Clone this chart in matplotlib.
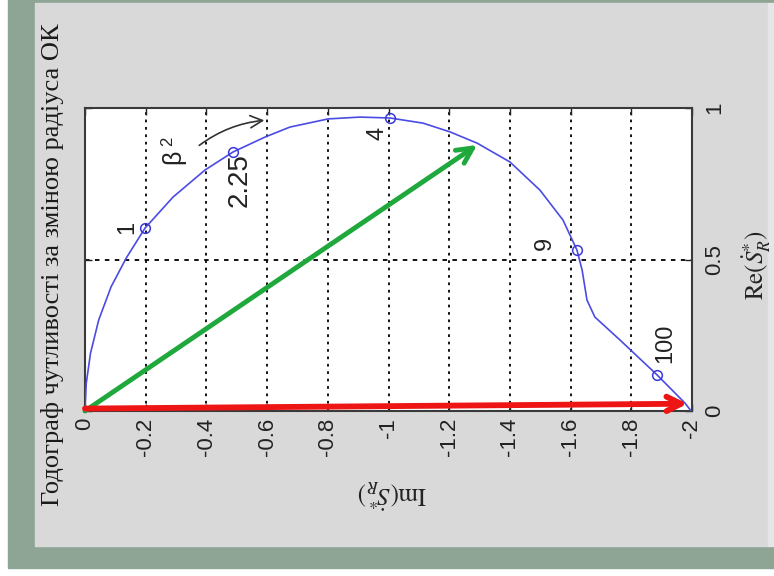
import matplotlib
matplotlib.use("Agg")
import matplotlib.pyplot as plt
from matplotlib.patches import Rectangle

# годограф: уявна частина (вісь внизу) та дійсна частина (вісь праворуч)
im_curve = [0, -0.004, -0.018, -0.045, -0.086, -0.136, -0.198, -0.290, -0.395, -0.488,
            -0.593, -0.675, -0.801, -0.906, -1.005, -1.114, -1.203, -1.292, -1.400,
            -1.499, -1.575, -1.621, -1.638, -1.654, -1.680, -1.763, -1.885, -1.977, -1.997]
re_curve = [0, 0.090, 0.190, 0.300, 0.410, 0.505, 0.604, 0.706, 0.795, 0.855,
            0.904, 0.937, 0.964, 0.970, 0.967, 0.950, 0.921, 0.884, 0.822,
            0.729, 0.630, 0.531, 0.465, 0.366, 0.310, 0.234, 0.119, 0.026, 0.0]

# значення beta^2 та відповідні точки годографа
beta2_labels = ["1", "2.25", "4", "9", "100"]
im_marks = [-0.198, -0.488, -1.005, -1.621, -1.885]
re_marks = [0.604, 0.855, 0.967, 0.531, 0.119]
im_text = [-0.138, -0.511, -0.965, -1.516, -1.911]
re_text = [0.607, 0.762, 0.917, 0.554, 0.224]
label_sizes = [17, 20, 17, 17, 17]

# вектори
green_tip = (-1.292, 0.878)
red_tip = (-1.985, 0.024)

x_ticks = [0, -0.2, -0.4, -0.6, -0.8, -1, -1.2, -1.4, -1.6, -1.8, -2]
x_tick_labels = ["0", "-0.2", "-0.4", "-0.6", "-0.8", "-1", "-1.2", "-1.4", "-1.6", "-1.8", "-2"]
y_ticks = [0, 0.5, 1]
y_tick_labels = ["0", "0.5", "1"]

plt.rcParams['mathtext.fontset'] = 'stix'

W, H = 774, 576
fig = plt.figure(figsize=(W / 100, H / 100), dpi=100, facecolor='white')

# рамка та світла панель
fig.patches.append(Rectangle((8 / W, (H - 568) / H), (W - 8) / W, 568 / H,
                             transform=fig.transFigure, color='#8ea595', zorder=-3))
fig.patches.append(Rectangle((35 / W, (H - 546) / H), (768 - 35) / W, (546 - 3) / H,
                             transform=fig.transFigure, color='#d9d9d9', zorder=-2))
fig.patches.append(Rectangle((768 / W, (H - 546) / H), 6 / W, (546 - 3) / H,
                             transform=fig.transFigure, color='#e6e6e6', zorder=-2))

ax = fig.add_axes([85 / W, (H - 411) / H, (692 - 85) / W, (411 - 108) / H])
ax.set_facecolor('white')
ax.set_xlim(0, -2)
ax.set_ylim(0, 1)

ax.plot(im_curve, re_curve, color='#4b4be6', lw=1.2, zorder=3)
ax.plot(im_marks, re_marks, 'o', ms=7, mfc='none', mec='#3a3ad8', mew=1.1, zorder=4)

for lbl, xt, yt, fs in zip(beta2_labels, im_text, re_text, label_sizes):
    ax.text(xt, yt, lbl, rotation=90, ha='center', va='center',
            fontsize=fs, family='Liberation Sans', color='#222222', zorder=5)

# позначка beta^2 зі стрілкою напрямку зростання
ax.text(-0.290, 0.838, 'β', rotation=90, ha='center', va='center',
        fontsize=18, family='Liberation Sans', color='#222222', zorder=5)
ax.text(-0.272, 0.890, '2', rotation=90, ha='center', va='center',
        fontsize=12, family='Liberation Sans', color='#222222', zorder=5)
ax.annotate('', xy=(-0.600, 0.960), xytext=(-0.369, 0.871),
            arrowprops=dict(arrowstyle='->', color='#333333', lw=1.2,
                            mutation_scale=22, connectionstyle='arc3,rad=-0.15'),
            zorder=5)

ax.annotate('', xy=green_tip, xytext=(0, 0),
            arrowprops=dict(arrowstyle='->', color='#1fa83c', lw=3.5,
                            mutation_scale=28, shrinkA=0, shrinkB=0), zorder=6)
ax.annotate('', xy=red_tip, xytext=(0, 0.008),
            arrowprops=dict(arrowstyle='->', color='#ee1515', lw=4.2,
                            mutation_scale=26, shrinkA=0, shrinkB=0), zorder=6)

# сітка пунктиром
for xv in x_ticks[1:-1]:
    ax.axvline(xv, color='black', lw=1.3, ls=(0, (1.5, 2.6)), zorder=1)
ax.axhline(0.5, color='black', lw=1.3, ls=(0, (2.5, 3)), zorder=1)

ax.set_xticks(x_ticks)
ax.set_xticklabels(x_tick_labels, rotation=90, fontsize=16, family='Liberation Sans')
ax.yaxis.tick_right()
ax.set_yticks(y_ticks)
ax.set_yticklabels(y_tick_labels, rotation=90, fontsize=16, family='Liberation Sans',
                   va='center')
ax.tick_params(axis='x', direction='in', length=5, width=1, top=True, pad=5, colors='#222222')
ax.tick_params(axis='y', direction='in', length=5, width=1, left=True, pad=9, colors='#222222')
for sp in ax.spines.values():
    sp.set_color('#3a3a3a')
    sp.set_linewidth(1.5)

fig.text(392 / W, (H - 493) / H, r'$\mathrm{Im}(\dot{S}_R^{*})$', rotation=180,
         ha='center', va='center', fontsize=18, color='#222222')
fig.text(757 / W, (H - 265) / H, r'$\mathrm{Re}(\dot{S}_R^{*})$', rotation=90,
         ha='center', va='center', fontsize=18, color='#222222')
fig.text(53 / W, (H - 265) / H, 'Годограф чутливості за зміною радіуса ОК', rotation=90,
         ha='center', va='center', fontsize=19, family='Liberation Serif', color='#1a1a1a')

fig.savefig('out.png', dpi=100, facecolor=fig.get_facecolor())
